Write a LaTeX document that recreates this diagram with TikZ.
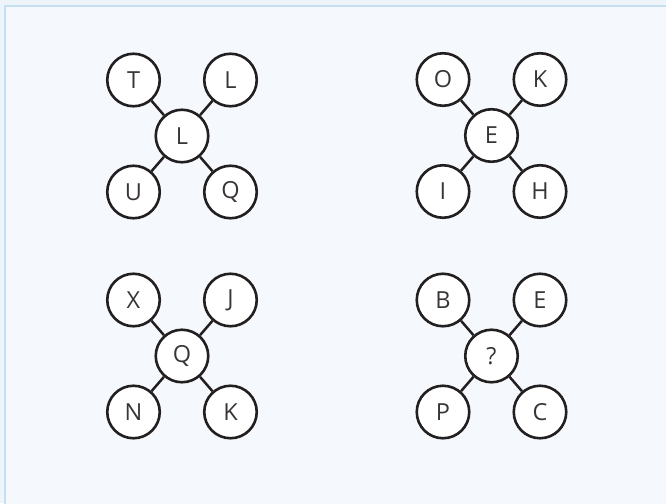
\documentclass[tikz,border=0pt]{standalone}
\usepackage{fontspec}
\setmainfont{Open Sans}
\definecolor{pagebg}{HTML}{EEF5FA}
\definecolor{panelbg}{HTML}{F5F9FD}
\definecolor{panelline}{HTML}{C6DFF0}
\definecolor{ink}{HTML}{231F20}
\begin{document}
\begin{tikzpicture}[x=1pt, y=-1pt,
  ball/.style={circle, draw=ink, fill=white, line width=2.6pt, minimum size=52.5pt,
    inner sep=0pt, text=ink!90, font=\fontsize{23.5}{23.5}\selectfont},
  stick/.style={draw=ink, line width=2.5pt}]
\useasboundingbox (0,0) rectangle (666,503);
\clip (0,0) rectangle (666,503);
\fill[pagebg] (0,0) rectangle (666,503);
\filldraw[fill=panelbg, draw=panelline, line width=2pt] (5,6.5) rectangle (690,530);
% top left: L
\node[ball] (mid1) at (182,136) {L};
\node[ball] (tl1) at (133.5,80) {T};
\node[ball] (tr1) at (230.5,80) {L};
\node[ball] (bl1) at (133.5,192) {U};
\node[ball] (br1) at (230.5,192) {Q};
\draw[stick] (mid1) -- (tl1) (mid1) -- (tr1) (mid1) -- (bl1) (mid1) -- (br1);
% top right: E
\node[ball] (mid2) at (491.5,135.5) {E};
\node[ball] (tl2) at (443,79.5) {O};
\node[ball] (tr2) at (540,79.5) {K};
\node[ball] (bl2) at (443,191.5) {I};
\node[ball] (br2) at (540,191.5) {H};
\draw[stick] (mid2) -- (tl2) (mid2) -- (tr2) (mid2) -- (bl2) (mid2) -- (br2);
% bottom left: Q
\node[ball] (mid3) at (182,356) {Q};
\node[ball] (tl3) at (133.5,300) {X};
\node[ball] (tr3) at (230.5,300) {J};
\node[ball] (bl3) at (133.5,412) {N};
\node[ball] (br3) at (230.5,412) {K};
\draw[stick] (mid3) -- (tl3) (mid3) -- (tr3) (mid3) -- (bl3) (mid3) -- (br3);
% bottom right: ?
\node[ball] (mid4) at (491.5,356) {?};
\node[ball] (tl4) at (443,300) {B};
\node[ball] (tr4) at (540,300) {E};
\node[ball] (bl4) at (443,412) {P};
\node[ball] (br4) at (540,412) {C};
\draw[stick] (mid4) -- (tl4) (mid4) -- (tr4) (mid4) -- (bl4) (mid4) -- (br4);
\end{tikzpicture}
\end{document}
